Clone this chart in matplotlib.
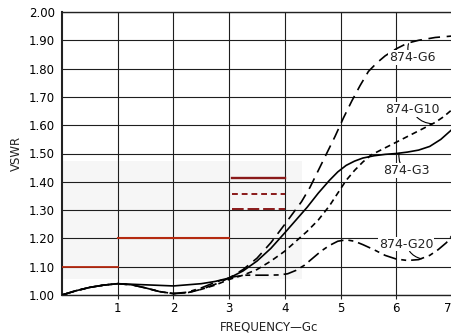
import matplotlib
matplotlib.use("Agg")
import matplotlib.pyplot as plt
from matplotlib.patches import Rectangle

# ---- data ----
low_x = [0, 0.25, 0.5, 0.75, 1, 1.25, 1.5, 1.75, 2]
dip_y = [1.0, 1.015, 1.027, 1.035, 1.04, 1.036, 1.025, 1.012, 1.005]

g6_x = low_x + [2.25, 2.5, 2.75, 3, 3.25, 3.5, 3.75, 4, 4.15, 4.3, 4.45, 4.6, 4.75, 4.9,
                5.05, 5.2, 5.35, 5.5, 5.65, 5.8, 6.0, 6.2, 6.4, 6.7, 7]
g6_y = dip_y + [1.008, 1.02, 1.038, 1.06, 1.09, 1.13, 1.185, 1.25, 1.29, 1.33, 1.38, 1.44, 1.50, 1.56,
                1.625, 1.685, 1.74, 1.79, 1.82, 1.845, 1.87, 1.89, 1.90, 1.91, 1.915]

g3_x = [0, 0.25, 0.5, 0.75, 1, 1.5, 2, 2.5, 2.75, 3, 3.25, 3.5, 3.75, 4, 4.2, 4.4, 4.6, 4.8,
        4.95, 5.1, 5.25, 5.4, 5.6, 5.8, 6.0, 6.2, 6.4, 6.6, 6.8, 7]
g3_y = [1.0, 1.015, 1.027, 1.035, 1.04, 1.036, 1.032, 1.04, 1.048, 1.06, 1.085, 1.12, 1.165, 1.22,
        1.265, 1.31, 1.36, 1.405, 1.435, 1.458, 1.473, 1.484, 1.492, 1.497, 1.50, 1.505, 1.512,
        1.525, 1.55, 1.585]

g10_x = low_x + [2.25, 2.5, 2.75, 3, 3.25, 3.5, 3.75, 4, 4.2, 4.4, 4.6, 4.8, 4.95, 5.1, 5.25,
                 5.4, 5.55, 5.7, 5.9, 6.1, 6.3, 6.5, 6.7, 6.85, 7]
g10_y = dip_y + [1.008, 1.02, 1.035, 1.055, 1.07, 1.09, 1.12, 1.155, 1.19, 1.225, 1.265, 1.315,
                 1.36, 1.405, 1.44, 1.47, 1.495, 1.51, 1.53, 1.55, 1.57, 1.59, 1.61, 1.63, 1.655]

g20_x = low_x + [2.25, 2.5, 2.75, 2.9, 3.1, 3.3, 3.5, 3.7, 3.9, 4.05, 4.2, 4.35, 4.5, 4.65, 4.8,
                 4.95, 5.1, 5.25, 5.4, 5.6, 5.8, 6.0, 6.2, 6.4, 6.6, 6.75, 6.9, 7]
g20_y = dip_y + [1.01, 1.025, 1.045, 1.055, 1.065, 1.07, 1.07, 1.07, 1.071, 1.075, 1.087, 1.105,
                 1.13, 1.155, 1.175, 1.19, 1.195, 1.19, 1.178, 1.16, 1.14, 1.127, 1.122, 1.125,
                 1.14, 1.16, 1.185, 1.21]

# specification limits
spec_low_x = [0, 1]
spec_low_y = 1.10
spec_mid_x = [1, 3]
spec_mid_y = 1.20
spec_hi_x = [3.05, 4.0]
spec_hi_levels = [1.415, 1.356, 1.304]

xticks = [1, 2, 3, 4, 5, 6, 7]
xtick_labels = ["1", "2", "3", "4", "5", "6", "7"]
yticks = [1.0, 1.1, 1.2, 1.3, 1.4, 1.5, 1.6, 1.7, 1.8, 1.9, 2.0]
ytick_labels = ["1.00", "1.10", "1.20", "1.30", "1.40", "1.50", "1.60", "1.70", "1.80", "1.90", "2.00"]

labels = ["874-G6", "874-G10", "874-G3", "874-G20"]

# ---- figure ----
fig = plt.figure(figsize=(4.52, 3.33), dpi=100)
ax = fig.add_axes([62 / 452, 1 - 295 / 333, 1 - 62 / 452, (295 - 12) / 333])
ax.set_xlim(0, 7)
ax.set_ylim(1.0, 2.0)

ax.add_patch(Rectangle((0, 1.055), 4.3, 0.42, facecolor="#f6f6f6", edgecolor="none", zorder=0))

ax.set_xticks(xticks)
ax.set_xticklabels(xtick_labels)
ax.get_xticklabels()[-1].set_horizontalalignment("right")
ax.set_yticks(yticks)
ax.set_yticklabels(ytick_labels)
ax.grid(True, color="#1e1e1e", linewidth=0.8)
ax.set_axisbelow(True)
ax.tick_params(axis="x", length=3, width=0.8, color="#222222", labelsize=8.5, pad=2)
ax.tick_params(axis="y", length=0, labelsize=8.5, pad=5)
for s in ax.spines.values():
    s.set_color("#222222")
    s.set_linewidth(1.0)
ax.spines["left"].set_linewidth(1.5)

red = "#b52a10"
dred = "#8a1a1a"
ax.plot(spec_low_x, [spec_low_y] * 2, color=red, lw=1.3, zorder=3)
ax.plot(spec_mid_x, [spec_mid_y] * 2, color=red, lw=1.5, zorder=3)
ax.plot(spec_hi_x, [spec_hi_levels[0]] * 2, color=dred, lw=1.7, zorder=3)
ax.plot(spec_hi_x, [spec_hi_levels[1]] * 2, color=dred, lw=1.4, dashes=(3, 2), zorder=3)
ax.plot(spec_hi_x, [spec_hi_levels[2]] * 2, color=dred, lw=1.4, dashes=(6, 2), zorder=3)

ax.plot(g6_x, g6_y, color="black", lw=1.2, dashes=(7, 4), zorder=4)
ax.plot(g3_x, g3_y, color="black", lw=1.2, zorder=4)
ax.plot(g10_x, g10_y, color="black", lw=1.2, dashes=(3.5, 2.5), zorder=4)
ax.plot(g20_x, g20_y, color="black", lw=1.2, dashes=(8, 3, 3, 3), zorder=4)

bbox = dict(facecolor="white", edgecolor="none", pad=0.5)
tk = dict(fontsize=9, ha="center", va="center", color="#222222", zorder=5)
ax.annotate(labels[0], xy=(6.22, 1.888), xytext=(6.28, 1.84), bbox=bbox,
            arrowprops=dict(arrowstyle="-", color="black", lw=0.8,
                            connectionstyle="arc3,rad=-0.3", shrinkA=0, shrinkB=0), **tk)
ax.annotate(labels[1], xy=(6.65, 1.605), xytext=(6.28, 1.655), bbox=bbox,
            arrowprops=dict(arrowstyle="-", color="black", lw=0.8,
                            connectionstyle="arc3,rad=0.3", shrinkA=0, shrinkB=0), **tk)
ax.annotate(labels[2], xy=(6.05, 1.501), xytext=(6.18, 1.44), bbox=bbox,
            arrowprops=dict(arrowstyle="-", color="black", lw=0.8,
                            connectionstyle="arc3,rad=-0.3", shrinkA=0, shrinkB=0), **tk)
ax.annotate(labels[3], xy=(6.45, 1.128), xytext=(6.18, 1.18), bbox=bbox,
            arrowprops=dict(arrowstyle="-", color="black", lw=0.8,
                            connectionstyle="arc3,rad=0.3", shrinkA=0, shrinkB=0), **tk)

ax.set_xlabel("FREQUENCY—Gc", fontsize=8.5, labelpad=3, color="#222222")
ax.xaxis.set_label_coords(0.53, -0.09)
ax.set_ylabel("VSWR", fontsize=8.5, labelpad=4, color="#222222")

fig.savefig("out.png", dpi=100, facecolor="white")
